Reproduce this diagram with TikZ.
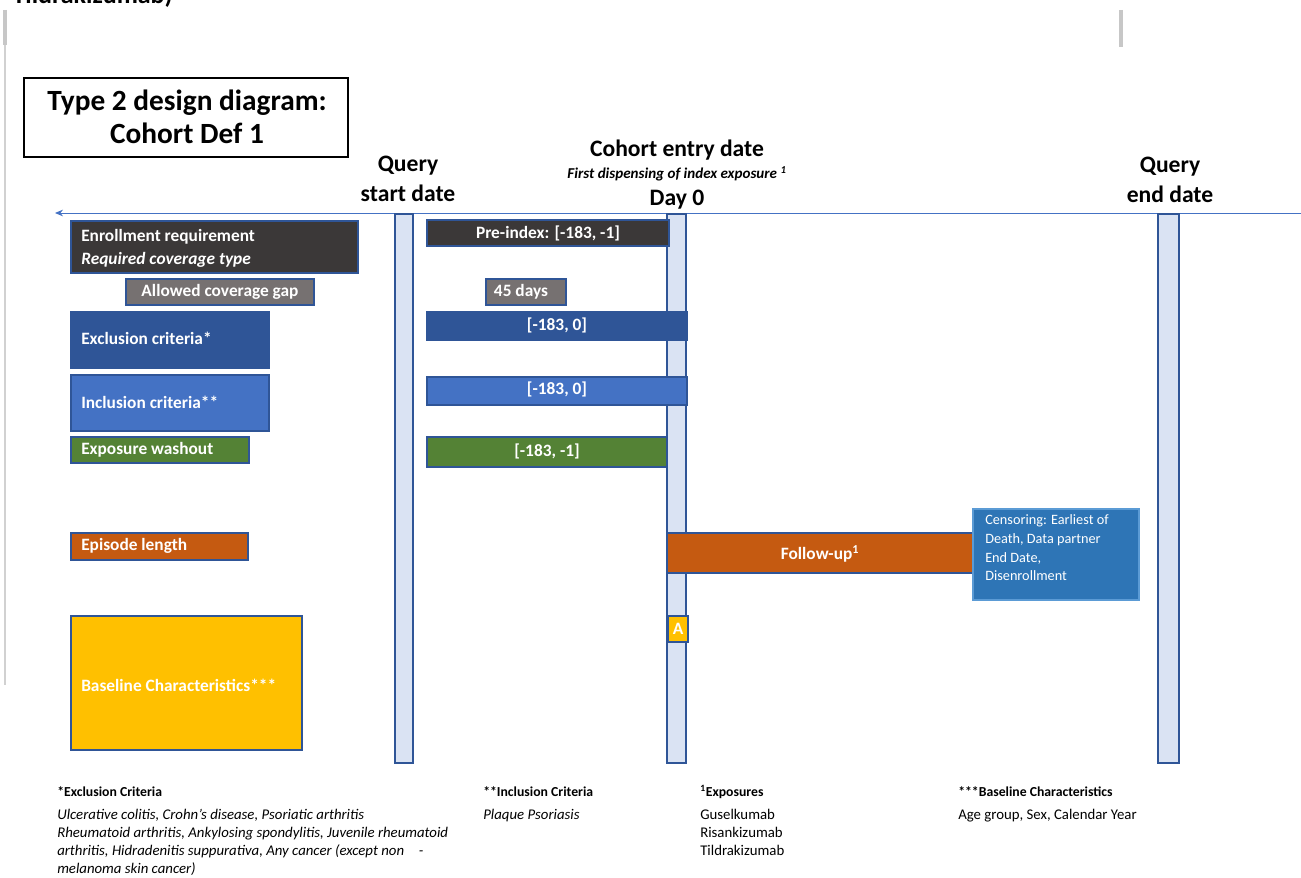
\documentclass[tikz,border=0pt]{standalone}
\usepackage{fontspec}
\setmainfont{Carlito}
\usetikzlibrary{arrows.meta,positioning}
\definecolor{boxdark}{HTML}{3B3838}
\definecolor{boxgray}{HTML}{767171}
\definecolor{exclblue}{HTML}{2F5597}
\definecolor{inclblue}{HTML}{4472C4}
\definecolor{washgreen}{HTML}{548235}
\definecolor{fuorange}{HTML}{C55A11}
\definecolor{censorblue}{HTML}{2E75B6}
\definecolor{censorline}{HTML}{5B9BD5}
\definecolor{basegold}{HTML}{FFC000}
\definecolor{datebar}{HTML}{DAE3F3}
\definecolor{edgeblue}{HTML}{2F5597}
\definecolor{lineblue}{HTML}{4472C4}

\tikzset{
  block/.style={draw=edgeblue, line width=1.1pt},
  lbl/.style={text=white, font=\bfseries\fontsize{13}{15}\selectfont, inner sep=0pt},
  hdr/.style={font=\bfseries\fontsize{17.7}{22.5}\selectfont, align=center, inner sep=0pt},
  foothead/.style={anchor=base west, font=\bfseries\fontsize{10.3}{12}\selectfont, inner sep=0pt},
  footbody/.style={anchor=north west, align=left, font=\fontsize{11.1}{13.5}\selectfont, inner sep=0pt}
}

\begin{document}
\begin{tikzpicture}[x=0.75pt, y=-0.75pt]
    \useasboundingbox (0,0) rectangle (1301,877);
    \clip (0,0) rectangle (1301,877);

    % Page marks
    \node[anchor=base east, font=\bfseries\fontsize{19.5}{22}\selectfont, inner sep=0pt] (cuttext) at (173,4) {Tildrakizumab)};
    \draw[black!22, line width=2.4pt] (5,10) -- (5,45);
    \draw[black!18, line width=0.8pt] (5,45) -- (5,685);
    \draw[black!22, line width=2.6pt] (1121,10) -- (1121,47);

    % Title
    \draw[black, line width=1.6pt] (24,78) rectangle (348,157);
    \node[font=\bfseries\fontsize{22}{25}\selectfont, align=center, inner sep=0pt] (title) at (187,117) {Type 2 design diagram:\\Cohort Def 1};

    % Date headers
    \node[hdr] (qstart) at (408,179) {Query\\start date};
    \node[hdr] (centry) at (677,150) {Cohort entry date};
    \node[font=\bfseries\itshape\fontsize{11.3}{13}\selectfont, inner sep=0pt] (firstdisp) at (677,174) {First dispensing of index exposure \textsuperscript{1}};
    \node[hdr] (dayzero) at (677,200) {Day 0};
    \node[hdr] (qend) at (1170,180) {Query\\end date};

    % Timeline
    \coordinate (tlright) at (1301,213);
    \coordinate (tlleft) at (55,213);
    \draw[lineblue, line width=0.7pt, -{Stealth[length=6pt,width=5pt]}] (tlright) -- (tlleft);

    % Date bars
    \foreach \xa/\xb in {395/413, 667/686, 1158/1179} {
        \draw[block, fill=datebar] (\xa,214) rectangle (\xb,763);
    }

    % Enrollment
    \draw[block, fill=boxdark] (71,221) rectangle (358,273);
    \node[lbl, anchor=base west] (enroll) at (81,242) {Enrollment requirement};
    \node[lbl, anchor=base west, font=\bfseries\itshape\fontsize{13}{15}\selectfont] (covtype) at (81,264) {Required coverage type};
    \draw[block, fill=boxdark] (427,220) rectangle (669,246);
    \node[lbl] (preindex) at (548,233) {Pre-index: [-183, -1]};

    % Coverage gap
    \draw[block, fill=boxgray] (126,279) rectangle (314,305);
    \node[lbl] (gap) at (220,292) {Allowed coverage gap};
    \draw[block, fill=boxgray] (486,279) rectangle (566,305);
    \node[lbl] (gapdays) at (521,292) {45 days};

    % Exclusion
    \draw[block, fill=exclblue] (71,312) rectangle (269,368);
    \node[lbl, anchor=west] (excl) at (81,338) {Exclusion criteria*};
    \draw[block, fill=exclblue] (427,312) rectangle (687,340);
    \node[lbl] (exclwin) at (557,325) {[-183, 0]};

    % Inclusion
    \draw[block, fill=inclblue] (71,375) rectangle (269,431);
    \node[lbl, anchor=west] (incl) at (81,402) {Inclusion criteria**};
    \draw[block, fill=inclblue] (427,377) rectangle (687,405);
    \node[lbl] (inclwin) at (557,389) {[-183, 0]};

    % Washout
    \draw[block, fill=washgreen] (71,437) rectangle (249,463);
    \node[lbl, anchor=west] (wash) at (81,450) {Exposure washout};
    \draw[block, fill=washgreen] (427,437) rectangle (667,467);
    \node[lbl] (washwin) at (547,451) {[-183, -1]};

    % Episode length and follow-up
    \draw[block, fill=fuorange] (71,533) rectangle (248,560);
    \node[lbl, anchor=west] (episode) at (81,546) {Episode length};
    \draw[block, fill=fuorange] (667,533) rectangle (975,573);
    \node[lbl] (followup) at (820,554) {Follow-up\textsuperscript{1}};
    \draw[draw=censorline, line width=1pt, fill=censorblue] (973,509) rectangle (1139,600);
    \node[anchor=north west, align=left, text=white, font=\fontsize{10.7}{14.2}\selectfont, inner sep=0pt] (censor) at (985,514) {Censoring: Earliest of\\Death, Data partner\\End Date,\\Disenrollment};

    % Baseline
    \draw[block, fill=basegold] (71,616) rectangle (302,750);
    \node[lbl, anchor=west] (baseline) at (81,685) {Baseline Characteristics***};
    \draw[block, fill=basegold] (668,616) rectangle (688,642);
    \node[lbl] (amark) at (678,629) {A};

    % Footnotes
    \node[foothead] (exclhead) at (57,796) {*Exclusion Criteria};
    \node[footbody, font=\itshape\fontsize{11.1}{13.5}\selectfont] (excllist) at (57,809) {Ulcerative colitis, Crohn’s disease, Psoriatic arthritis\\Rheumatoid arthritis, Ankylosing spondylitis, Juvenile rheumatoid\\arthritis, Hidradenitis suppurativa, Any cancer (except non\quad-\\melanoma skin cancer)};
    \node[foothead] (inclhead) at (483,796) {**Inclusion Criteria};
    \node[footbody, font=\itshape\fontsize{11.1}{13.5}\selectfont] (incllist) at (483,809) {Plaque Psoriasis};
    \node[foothead] (exphead) at (700,796) {\textsuperscript{1}Exposures};
    \node[footbody] (explist) at (700,809) {Guselkumab\\Risankizumab\\Tildrakizumab};
    \node[foothead] (basehead) at (958,796) {***Baseline Characteristics};
    \node[footbody] (baselist) at (958,809) {Age group, Sex, Calendar Year};
\end{tikzpicture}
\end{document}
